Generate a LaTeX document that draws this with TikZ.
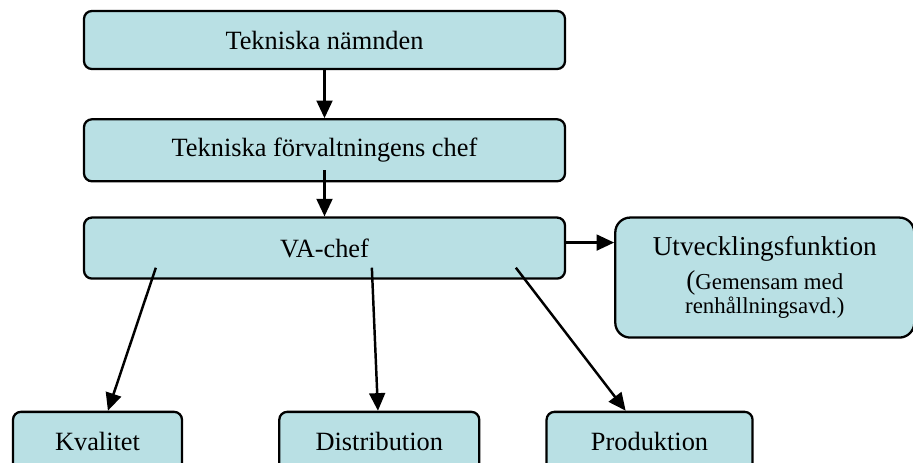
\documentclass[tikz,border=0pt]{standalone}
\usepackage{fontspec}
\setmainfont{Liberation Serif}
\usetikzlibrary{positioning, arrows.meta}
\definecolor{boxblue}{RGB}{185,224,228}
\newcommand{\notetext}{\fontsize{13}{15}\selectfont}
\tikzset{%
  eda/.style={-{Triangle[length=10pt, width=9pt]}, line width=1.4pt},
  orgbox/.style={draw, line width=1.3pt, fill=boxblue, rounded corners=4.5pt,
    inner sep=0pt, font=\fontsize{15}{18}\selectfont},
  chefbox/.style={orgbox, minimum width=96.2mm},
  unitbox/.style={orgbox, minimum height=12mm},
  sidebox/.style={orgbox, rounded corners=8.5pt, minimum width=59.8mm,
    minimum height=24mm, align=center, font=\fontsize{15.5}{18}\selectfont}
}
\begin{document}
\begin{tikzpicture}
        \useasboundingbox (0,0) rectangle (182.6mm,-92.6mm);
        \node[chefbox, minimum height=11.6mm] (tn) at (64.9mm,-8mm) {Tekniska nämnden};
        \node[chefbox, minimum height=12.4mm] (tfc) [below = 9.6mm of tn] {Tekniska förvaltningens chef};
        \node[chefbox, minimum height=12.2mm] (va) [below = 6.8mm of tfc] {VA-chef};
        \node[sidebox] (utv) [right = 9.6mm of va.north east, anchor=north west]
          {Utvecklingsfunktion\\[1pt](\notetext Gemensam med\\[-4pt]\notetext renhållningsavd.)};
        \node[unitbox, minimum width=33.8mm] (kval) [below = 26.2mm of va.south west, anchor=north west, xshift=-14.2mm] {Kvalitet};
        \node[unitbox, minimum width=40mm] (dist) [right = 19mm of kval] {Distribution};
        \node[unitbox, minimum width=41.2mm] (prod) [right = 13mm of dist] {Produktion};
        \coordinate (tfcOut) at ([yshift=2.4mm]tfc.south);
        \coordinate (vaU) at ([yshift=1.1mm]va.east);
        \coordinate (vaK) at ([shift={(14.6mm,2.4mm)}]va.south west);
        \coordinate (vaD) at ([shift={(57.8mm,2.4mm)}]va.south west);
        \coordinate (vaP) at ([shift={(86.6mm,2.4mm)}]va.south west);
        \path[eda]
        (tn) edge (tfc)
        (tfcOut) edge (va)
        (vaU) edge (vaU -| utv.west)
        (vaK) edge (kval)
        (vaD) edge (dist)
        (vaP) edge (prod);
      \end{tikzpicture}
\end{document}
